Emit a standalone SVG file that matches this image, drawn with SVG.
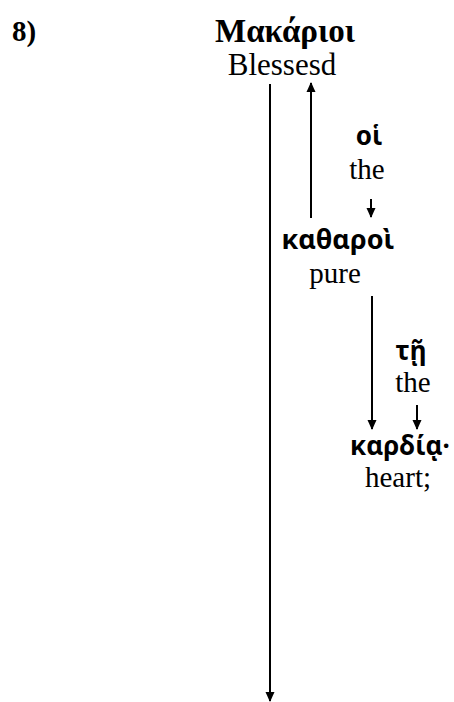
<svg xmlns="http://www.w3.org/2000/svg" width="454" height="702" viewBox="0 0 454 702">
<style>
.en{font-family:"Liberation Serif","Times New Roman",serif;font-size:29px;fill:#000;text-anchor:middle}
.gr{font-family:"Noto Sans","DejaVu Sans",sans-serif;font-weight:bold;font-size:26px;fill:#000;text-anchor:middle}
.hd{font-family:"Liberation Serif","Times New Roman",serif;font-weight:bold;font-size:29px;fill:#000}
.ln{stroke:#000;stroke-width:2;fill:none}
</style>
<defs>
<marker id="ah" markerWidth="10" markerHeight="10" refX="9" refY="5" orient="auto" markerUnits="userSpaceOnUse">
<path d="M0,0.5 L10,5 L0,9.5 z" fill="#000"/>
</marker>
</defs>
<text class="hd" x="12" y="41">8)</text>
<g id="n-makarioi"><text class="hd" x="285" y="42" text-anchor="middle" style="font-size:33px">Μακάριοι</text><text class="en" x="282" y="75" style="font-size:31px">Blessesd</text></g>
<g id="n-hoi"><text class="gr" x="369" y="145">οἱ</text><text class="en" x="367" y="179">the</text></g>
<g id="n-katharoi"><text class="gr" x="338" y="249" style="font-size:27px">καθαροὶ</text><text class="en" x="335" y="283">pure</text></g>
<g id="n-te"><text class="gr" x="411" y="360">τῇ</text><text class="en" x="413" y="392">the</text></g>
<g id="n-kardia"><text class="gr" x="400" y="455">καρδίᾳ·</text><text class="en" x="398" y="487">heart;</text></g>
<g id="connectors">
<line class="ln" x1="270" y1="84" x2="270" y2="701" marker-end="url(#ah)"/>
<line class="ln" x1="311" y1="218" x2="311" y2="83" marker-end="url(#ah)"/>
<line class="ln" x1="371" y1="199" x2="371" y2="217" marker-end="url(#ah)"/>
<line class="ln" x1="372" y1="296" x2="372" y2="429" marker-end="url(#ah)"/>
<line class="ln" x1="417" y1="405" x2="417" y2="429" marker-end="url(#ah)"/>
</g>
</svg>
